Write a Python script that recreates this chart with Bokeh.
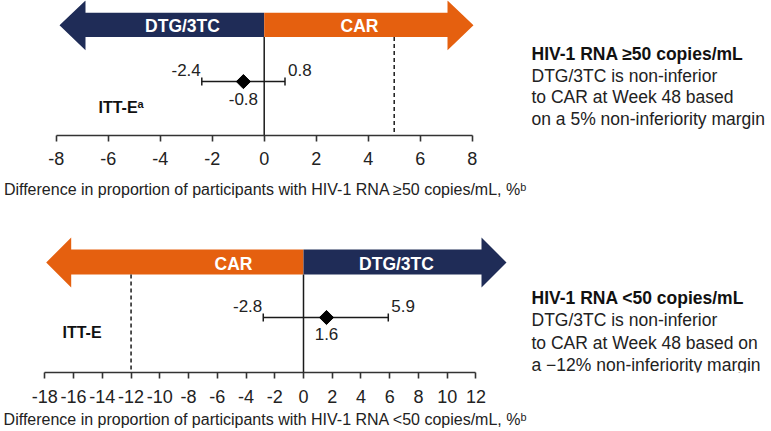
import math
from bokeh.plotting import figure
from bokeh.layouts import column, row
from bokeh.models import Range1d, FixedTicker
from bokeh.embed import file_html
from bokeh.resources import INLINE
from bokeh.core.properties import value

FONT = "Liberation Sans"
NAVY = "#1f2c57"
ORANGE = "#e5600f"
INK = "#1a1a1a"

# ---------------- data ----------------
top_population = ["ITT-E"]
top_estimate = [-0.8]
top_ci_low = [-2.4]
top_ci_high = [0.8]
top_margin = 5
top_ticks = [-8, -6, -4, -2, 0, 2, 4, 6, 8]
top_arrow_labels = ["DTG/3TC", "CAR"]
top_axis_label = "Difference in proportion of participants with HIV-1 RNA \u226550 copies/mL, %\u1d47"
top_note_title = "HIV-1 RNA \u226550 copies/mL"
top_note_lines = ["DTG/3TC is non-inferior", "to CAR at Week 48 based", "on a 5% non-inferiority margin"]

bot_population = ["ITT-E"]
bot_estimate = [1.6]
bot_ci_low = [-2.8]
bot_ci_high = [5.9]
bot_margin = -12
bot_ticks = [-18, -16, -14, -12, -10, -8, -6, -4, -2, 0, 2, 4, 6, 8, 10, 12]
bot_arrow_labels = ["CAR", "DTG/3TC"]
bot_axis_label = "Difference in proportion of participants with HIV-1 RNA <50 copies/mL, %\u1d47"
bot_note_title = "HIV-1 RNA <50 copies/mL"
bot_note_lines = ["DTG/3TC is non-inferior", "to CAR at Week 48 based on", "a \u221212% non-inferiority margin"]

W = 771
MAIN_W = 530
NOTE_W = W - MAIN_W


def make_panel(cfg):
    zero_px, ppu = cfg["zero_px"], cfg["ppu"]
    x0 = (0 - zero_px) / ppu
    x1 = (MAIN_W - zero_px) / ppu
    X = lambda px: (px - zero_px) / ppu  # picture pixel -> data
    frame_h = cfg["y_bottom"] - cfg["y_top"]
    border_b = cfg["height"] - frame_h

    p = figure(width=MAIN_W, height=cfg["height"],
               x_range=Range1d(x0, x1),
               y_range=Range1d(cfg["y_bottom"], cfg["y_top"]),
               output_backend="svg", toolbar_location=None,
               min_border_left=0, min_border_right=0, min_border_top=0,
               min_border_bottom=border_b,
               y_axis_location=None, outline_line_color=None,
               background_fill_color="white", border_fill_color="white")
    p.xgrid.visible = False
    p.ygrid.visible = False
    ticks = cfg["ticks"]
    ax = p.xaxis[0]
    ax.ticker = FixedTicker(ticks=ticks)
    ax.bounds = (ticks[0], ticks[-1])
    ax.major_label_overrides = {t: str(t) for t in ticks}
    ax.major_tick_in = 0
    ax.major_tick_out = 6
    ax.minor_tick_in = 0
    ax.minor_tick_out = 0
    ax.axis_line_width = 1.6
    ax.axis_line_color = "#333333"
    ax.major_tick_line_width = 1.6
    ax.major_tick_line_color = "#333333"
    ax.major_label_text_font = FONT
    ax.major_label_text_font_size = "18px"
    ax.major_label_text_color = "#222222"
    ax.major_label_standoff = cfg["tick_standoff"]
    ax.axis_label = cfg["axis_label"]
    ax.axis_label_text_font = FONT
    ax.axis_label_text_font_size = "16px"
    ax.axis_label_text_font_style = "normal"
    ax.axis_label_text_color = "#222222"
    ax.axis_label_standoff = cfg["label_standoff"]

    # arrows
    a = cfg["arrow"]
    bt, bb, ht, hb = a["body_top"], a["body_bot"], a["head_top"], a["head_bot"]
    ty = (ht + hb) / 2
    lt, lb, rb, rt = X(a["l_tip"]), X(a["l_base"]), X(a["r_base"]), X(a["r_tip"])
    p.patch([0, lb, lb, lt, lb, lb, 0], [bt, bt, ht, ty, hb, bb, bb],
            fill_color=cfg["left_color"], line_color=None)
    p.patch([0, rb, rb, rt, rb, rb, 0], [bt, bt, ht, ty, hb, bb, bb],
            fill_color=cfg["right_color"], line_color=None)
    p.text(x=[X(cfg["arrow_text_px"][0]), X(cfg["arrow_text_px"][1])], y=[ty + 1, ty + 1],
           text=cfg["arrow_labels"], text_color="white", text_align="center",
           text_baseline="middle", text_font=value(FONT), text_font_style="bold",
           text_font_size="17.5px")

    # reference lines
    yb = cfg["y_bottom"]
    p.segment(x0=[0], y0=[bb], x1=[0], y1=[yb], line_color=INK, line_width=1.5)
    p.segment(x0=[cfg["margin"]], y0=[bb], x1=[cfg["margin"]], y1=[yb],
              line_color=INK, line_width=1.5, line_dash="4 3")

    # estimate + CI
    ry = cfg["row_y"]
    ys = [ry] * len(cfg["est"])
    p.segment(x0=cfg["lo"], y0=ys, x1=cfg["hi"], y1=ys, line_color=INK, line_width=1.5)
    p.scatter(cfg["lo"] + cfg["hi"], ys + ys, marker="dash", angle=math.pi / 2,
              size=8, line_color=INK, line_width=1.5)
    p.scatter(cfg["est"], ys, marker="square", angle=math.pi / 4, size=10,
              fill_color="black", line_color="black")
    lab = dict(text_font=value(FONT), text_font_size="17px", text_color="#222222",
               text_baseline="middle")
    p.text(x=cfg["lo"], y=[ry - 12] * len(ys), text=[f"{v:.1f}" for v in cfg["lo"]],
           text_align="right", x_offset=-1, **lab)
    p.text(x=cfg["hi"], y=[ry - 12] * len(ys), text=[f"{v:.1f}" for v in cfg["hi"]],
           text_align="left", x_offset=3, **lab)
    p.text(x=cfg["est"], y=[ry + cfg["est_dy"]] * len(ys), text=[f"{v:.1f}" for v in cfg["est"]],
           text_align="center", **lab)

    # population label
    pl = cfg["pop_px"]
    p.text(x=[X(pl[0])], y=[pl[1]], text=cfg["pop"], text_font=value(FONT),
           text_font_style="bold", text_font_size="16px", text_color="#111111",
           text_baseline="middle", text_align="left")
    if cfg.get("pop_sup"):
        p.text(x=[X(pl[0] + 39)], y=[pl[1] - 4], text=[cfg["pop_sup"]], text_font=value(FONT),
               text_font_style="bold", text_font_size="11px", text_color="#111111",
               text_baseline="middle", text_align="left")

    # note panel on the right (same pixel-like y coordinates as the main frame)
    n = figure(width=NOTE_W, height=cfg["height"],
               x_range=Range1d(MAIN_W, W),
               y_range=Range1d(cfg["y_bottom"], cfg["y_top"]),
               output_backend="svg", toolbar_location=None,
               min_border_left=0, min_border_right=0, min_border_top=0,
               min_border_bottom=border_b,
               x_axis_location=None, y_axis_location=None,
               outline_line_color=None, background_fill_color="white",
               border_fill_color="white")
    n.xgrid.visible = False
    n.ygrid.visible = False
    nx = MAIN_W + 1
    ny = cfg["note_y"]
    dy = cfg["note_dy"]
    n.text(x=[nx], y=[ny], text=[cfg["note_title"]], text_font=value(FONT),
           text_font_style="bold", text_font_size="17.5px", text_color="#111111",
           text_baseline="middle", text_align="left")
    n.text(x=[nx] * len(cfg["note_lines"]), y=[ny + dy * (i + 1) for i in range(len(cfg["note_lines"]))],
           text=cfg["note_lines"], text_font=value(FONT), text_font_size="17.5px",
           text_color="#222222", text_baseline="middle", text_align="left")
    return row(p, n, spacing=0)


top = make_panel(dict(
    zero_px=263.7, ppu=26.0, height=200, y_top=0, y_bottom=144,
    ticks=top_ticks, margin=top_margin, est=top_estimate, lo=top_ci_low, hi=top_ci_high,
    est_dy=19, row_y=86.5, pop=top_population, pop_sup="a", pop_px=(98, 114),
    arrow=dict(body_top=13, body_bot=39, head_top=0, head_bot=53,
               l_tip=59, l_base=85, r_base=447, r_tip=473),
    left_color=NAVY, right_color=ORANGE, arrow_labels=top_arrow_labels,
    arrow_text_px=(182, 359), note_title=top_note_title, note_lines=top_note_lines,
    note_y=57, note_dy=23, axis_label=top_axis_label, tick_standoff=10, label_standoff=13,
))

bottom = make_panel(dict(
    zero_px=303.0, ppu=14.37, height=231, y_top=200, y_bottom=372,
    ticks=bot_ticks, margin=bot_margin, est=bot_estimate, lo=bot_ci_low, hi=bot_ci_high,
    est_dy=16, row_y=317, pop=bot_population, pop_sup=None, pop_px=(62, 332),
    arrow=dict(body_top=249, body_bot=274, head_top=237, head_bot=287,
               l_tip=45.7, l_base=70.7, r_base=481, r_tip=506),
    left_color=ORANGE, right_color=NAVY, arrow_labels=bot_arrow_labels,
    arrow_text_px=(233, 396), note_title=bot_note_title, note_lines=bot_note_lines,
    note_y=297, note_dy=22.5, axis_label=bot_axis_label, tick_standoff=11, label_standoff=5,
))

layout = column(top, bottom, spacing=0)
open("out.html", "w").write(file_html(layout, INLINE))
